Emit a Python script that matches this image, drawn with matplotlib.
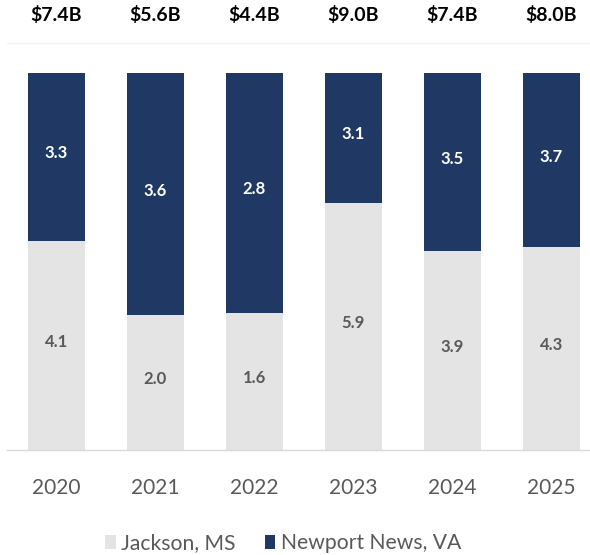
import matplotlib
matplotlib.use("Agg")
import matplotlib.pyplot as plt
import numpy as np

years = ["2020", "2021", "2022", "2023", "2024", "2025"]
jackson = [4.1, 2.0, 1.6, 5.9, 3.9, 4.3]
newport = [3.3, 3.6, 2.8, 3.1, 3.5, 3.7]
totals = ["$7.4B", "$5.6B", "$4.4B", "$9.0B", "$7.4B", "$8.0B"]

navy = "#1f3864"
grey = "#e4e4e4"
txt = "#595959"

plt.rcParams['font.family'] = ['Lato', 'DejaVu Sans']

W, H = 590, 555
fig = plt.figure(figsize=(W/100, H/100), dpi=100)
ax = fig.add_axes([7/W, (H-450)/H, 583/W, 407/H])

x = np.arange(len(years))
j = np.array(jackson); n = np.array(newport)
tot = j + n
jf = j / tot
nf = n / tot
w = 0.58
ax.bar(x, jf, w, color=grey, label="Jackson, MS")
ax.bar(x, nf, w, bottom=jf, color=navy, label="Newport News, VA")

for i in range(len(years)):
    ax.text(x[i], jf[i]/2 + 0.01, f"{jackson[i]:.1f}", ha="center", va="center",
            color=txt, fontsize=12, fontweight="bold")
    ax.text(x[i], jf[i] + nf[i]/2 + 0.01, f"{newport[i]:.1f}", ha="center", va="center",
            color="white", fontsize=12, fontweight="bold")
    ax.text(x[i], 1.155, totals[i], ha="center", va="center", color="black",
            fontsize=14, fontweight="bold")

ax.set_xlim(-0.5, 5.39)
ax.set_ylim(0, 1.08)
ax.set_yticks([])
ax.set_xticks(x)
ax.set_xticklabels(years, fontsize=15, color=txt, fontweight="normal")
ax.tick_params(axis="x", length=0, pad=20)
for s in ["left", "right"]:
    ax.spines[s].set_visible(False)
ax.spines["bottom"].set_color("#d9d9d9")
ax.spines["bottom"].set_linewidth(1)
ax.spines["top"].set_color("#f2f2f2")
ax.spines["top"].set_linewidth(0.8)

leg = fig.legend(loc="center", bbox_to_anchor=(283/W, 1 - 543/H), ncol=2, frameon=False,
                 fontsize=15.2, handlelength=0.5, handleheight=0.65, handletextpad=0.25,
                 columnspacing=1.4)
for t in leg.get_texts():
    t.set_color(txt)

fig.savefig("out.png", dpi=100)
